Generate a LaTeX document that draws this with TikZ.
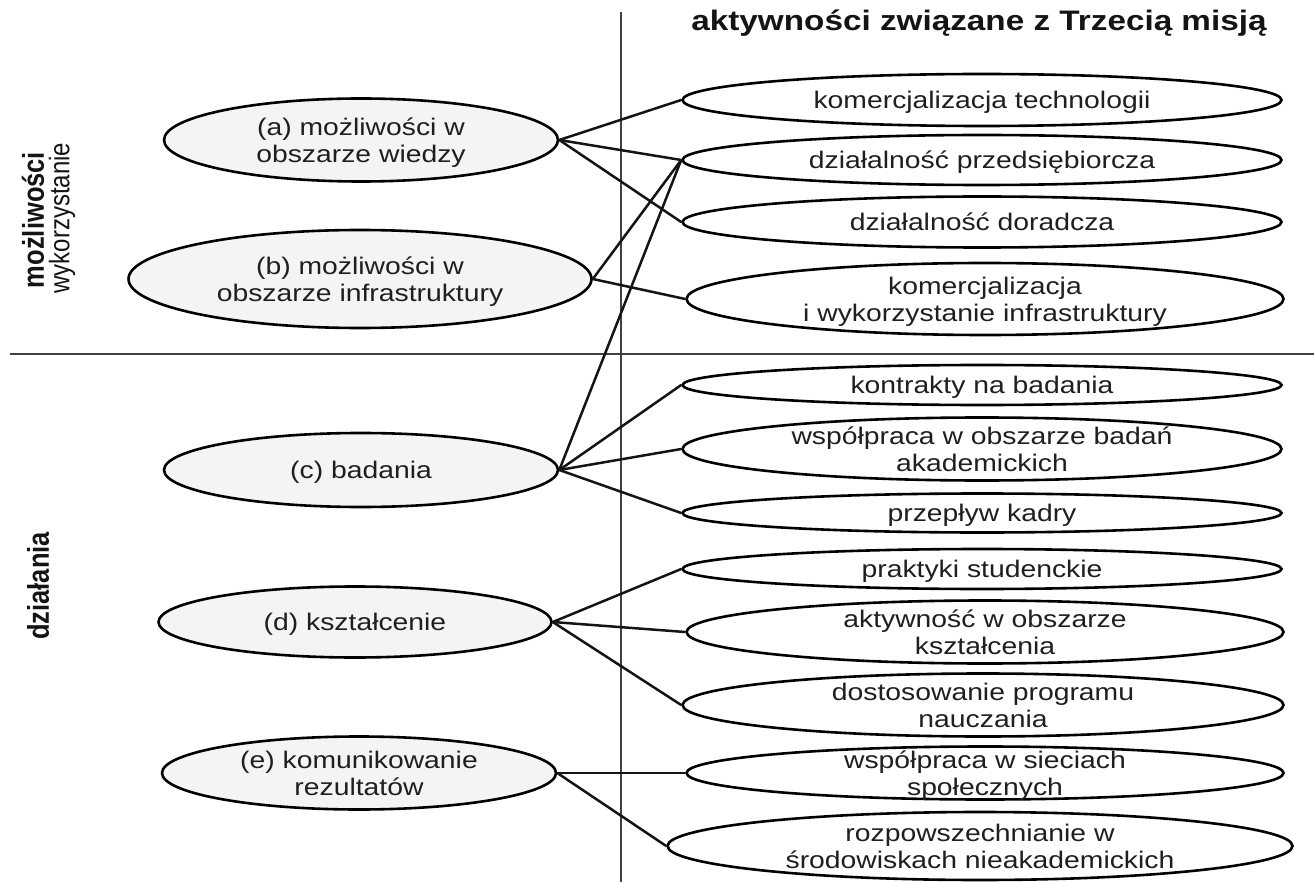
\documentclass[tikz,border=0pt]{standalone}
\usepackage{fontspec}
\setmainfont{Liberation Sans}[FakeStretch=1.18]
\newfontfamily\plainsans{Liberation Sans}
\usetikzlibrary{shapes.geometric}
\newcommand{\ctxt}[1]{\makebox[0pt]{\raisebox{-0.4em}{\begin{tabular}{@{}c@{}}#1\end{tabular}}}}
\newcommand{\vstretch}[1]{\scalebox{1}[1.18]{#1}}
\tikzset{
  bubble/.style={ellipse, draw=black, line width=2.6pt, inner sep=0pt,
    text height=0pt, text depth=0pt, text=black!88,
    font=\fontsize{24}{27.5}\selectfont},
  lft/.style={bubble, fill=gray!9},
  rgt/.style={bubble, fill=white},
  conn/.style={line width=2.5pt, black!92},
  divider/.style={line width=1.3pt, black!75},
  sidelab/.style={rotate=90, text=black!92},
}
\begin{document}
\begin{tikzpicture}[x=1pt,y=-1pt]
\fill[white] (0,0) rectangle (1314,882);
\useasboundingbox (0,0) rectangle (1314,882);
% dividers
\coordinate (vtop) at (621,12);
\coordinate (vbot) at (621,882);
\coordinate (hl) at (10,354);
\coordinate (hr) at (1314,354);
\draw[divider] (vtop) -- (vbot);
\draw[divider] (hl) -- (hr);
% title and side labels
\node[anchor=base, font=\bfseries\fontsize{28.2}{31}\selectfont, text=black!92] (title) at (979,31) {aktywności związane z Trzecią misją};
\node[sidelab, font=\plainsans\bfseries\fontsize{25.5}{28}\selectfont] (lab1) at (33,220) {\vstretch{możliwości}};
\node[sidelab, font=\plainsans\fontsize{24}{27}\selectfont] (lab2) at (62,218) {\vstretch{wykorzystanie}};
\node[sidelab, font=\plainsans\bfseries\fontsize{25.5}{28}\selectfont] (lab3) at (38,586) {\vstretch{działania}};
% left ellipses
\node[lft, minimum width=394pt, minimum height=83pt] (a) at (361,140) {\ctxt{(a) możliwości w\\obszarze wiedzy}};
\node[lft, minimum width=463pt, minimum height=98pt] (b) at (360,279) {\ctxt{(b) możliwości w\\obszarze infrastruktury}};
\node[lft, minimum width=394pt, minimum height=74pt] (c) at (361,470) {\ctxt{(c) badania}};
\node[lft, minimum width=393pt, minimum height=71pt] (d) at (355,622) {\ctxt{(d) kształcenie}};
\node[lft, minimum width=394pt, minimum height=73pt] (e) at (359,773) {\ctxt{(e) komunikowanie\\rezultatów}};
% right ellipses
\node[rgt, minimum width=599pt, minimum height=52pt] (kt) at (982,100) {\ctxt{komercjalizacja technologii}};
\node[rgt, minimum width=599pt, minimum height=50pt] (dp) at (982,160) {\ctxt{działalność przedsiębiorcza}};
\node[rgt, minimum width=599pt, minimum height=51pt] (dd) at (982,222) {\ctxt{działalność doradcza}};
\node[rgt, minimum width=597pt, minimum height=72pt] (ki) at (985,299) {\ctxt{komercjalizacja\\i wykorzystanie infrastruktury}};
\node[rgt, minimum width=599pt, minimum height=40pt] (kb) at (982,385) {\ctxt{kontrakty na badania}};
\node[rgt, minimum width=599pt, minimum height=63pt] (wb) at (982,449) {\ctxt{współpraca w obszarze badań\\akademickich}};
\node[rgt, minimum width=599pt, minimum height=39pt] (pk) at (982,513) {\ctxt{przepływ kadry}};
\node[rgt, minimum width=599pt, minimum height=40pt] (ps) at (982,569) {\ctxt{praktyki studenckie}};
\node[rgt, minimum width=597pt, minimum height=63pt] (ak) at (985,632) {\ctxt{aktywność w obszarze\\kształcenia}};
\node[rgt, minimum width=601pt, minimum height=63pt] (dpn) at (983,705) {\ctxt{dostosowanie programu\\nauczania}};
\node[rgt, minimum width=597pt, minimum height=53pt] (ws) at (985,773) {\ctxt{współpraca w sieciach\\społecznych}};
\node[rgt, minimum width=625pt, minimum height=68pt] (rs) at (980,846) {\ctxt{rozpowszechnianie w\\środowiskach nieakademickich}};
% connectors
\draw[conn] (a.east) -- (kt.west);
\draw[conn] (a.east) -- (dp.west);
\draw[conn] (a.east) -- (dd.west);
\draw[conn] (b.east) -- (dp.west);
\draw[conn] (b.east) -- (ki.west);
\draw[conn] (c.east) -- (dp.west);
\draw[conn] (c.east) -- (kb.west);
\draw[conn] (c.east) -- (wb.west);
\draw[conn] (c.east) -- (pk.west);
\draw[conn] (d.east) -- (ps.west);
\draw[conn] (d.east) -- (ak.west);
\draw[conn] (d.east) -- (dpn.west);
\draw[conn] (e.east) -- (ws.west);
\draw[conn] (e.east) -- (rs.west);
\end{tikzpicture}
\end{document}
